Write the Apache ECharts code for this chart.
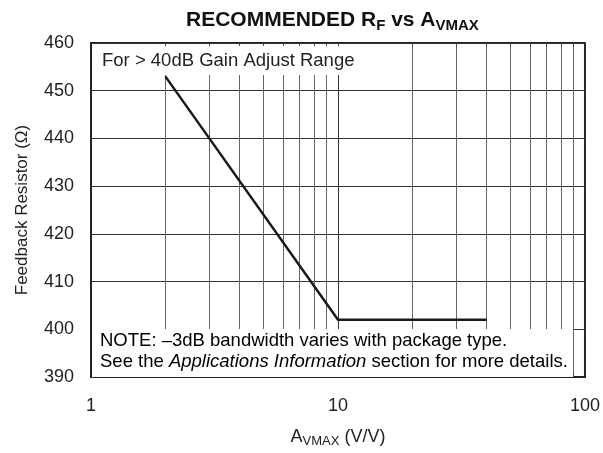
<!DOCTYPE html>
<html>
<head>
<meta charset="UTF-8">
<title>Recommended RF vs AVMAX</title>
<script src="https://cdn.jsdelivr.net/npm/echarts@6/dist/echarts.min.js"></script>
<style>
  html, body { margin: 0; padding: 0; background: #fff; }
  #chart { width: 603px; height: 453px; }
</style>
</head>
<body>
<div id="chart"></div>
<script>
// data
var gain = [2, 10, 40];           // A_VMAX (V/V)
var rf = [453, 402, 402];         // feedback resistor (ohm)
var minorX = [2, 3, 4, 5, 6, 7, 8, 9, 20, 30, 40, 50, 60, 70, 80, 90];
var tickX = [2, 3, 4, 5, 6, 7, 8, 9, 10, 20, 30, 40, 50, 60, 70, 80, 90];

var FONT = 'Liberation Sans, Arial, Helvetica, sans-serif';
var chart = echarts.init(document.getElementById('chart'));

// short inward ticks on bottom and top edges
var tickData = [];
tickX.forEach(function (v) {
    tickData.push([{coord: [v, 390]}, {coord: [v, 390.8]}]);
    tickData.push([{coord: [v, 460]}, {coord: [v, 459.2]}]);
});

var option = {
    animation: false,
    title: {
        left: 181,
        top: 2,
        text: '{b|RECOMMENDED R}{s|F}{b| vs A}{s|VMAX}',
        textStyle: {
            rich: {
                b: {fontFamily: FONT, fontSize: 21, fontWeight: 'bold', color: '#111', lineHeight: 26, verticalAlign: 'middle'},
                s: {fontFamily: FONT, fontSize: 15, fontWeight: 'bold', color: '#111', lineHeight: 15, verticalAlign: 'bottom'}
            }
        }
    },
    grid: {
        left: 91, right: 16, top: 43, bottom: 75,
        show: true, borderColor: '#222', borderWidth: 2, backgroundColor: 'transparent'
    },
    xAxis: {
        type: 'log',
        logBase: 10,
        min: 1,
        max: 100,
        name: '{n|A}{s|VMAX}{n| (V/V)}',
        nameLocation: 'middle',
        nameGap: 49,
        nameTextStyle: {
            rich: {
                n: {fontFamily: FONT, fontSize: 18, color: '#222', lineHeight: 22, verticalAlign: 'middle'},
                s: {fontFamily: FONT, fontSize: 13, color: '#222', lineHeight: 13, verticalAlign: 'bottom'}
            }
        },
        axisLine: {show: true, lineStyle: {color: '#222', width: 2}},
        axisTick: {show: false},
        axisLabel: {fontFamily: FONT, fontSize: 18, color: '#222', margin: 20},
        splitLine: {show: true, lineStyle: {color: '#333', width: 1}},
        minorTick: {show: false},
        minorSplitLine: {show: false}
    },
    yAxis: {
        type: 'value',
        min: 390,
        max: 460,
        interval: 10,
        name: 'Feedback Resistor (Ω)',
        nameLocation: 'middle',
        nameGap: 60,
        nameRotate: 90,
        nameTextStyle: {fontFamily: FONT, fontSize: 17, color: '#222'},
        axisLine: {show: true, lineStyle: {color: '#222', width: 2}},
        axisTick: {show: true, inside: true, length: 4, lineStyle: {color: '#333'}},
        axisLabel: {fontFamily: FONT, fontSize: 18, color: '#222', margin: 17},
        splitLine: {show: true, lineStyle: {color: '#333', width: 1}}
    },
    graphic: [
        {
            type: 'rect', z: 10, silent: true,
            shape: {x: 92, y: 46, width: 268, height: 29},
            style: {fill: '#fff'}
        },
        {
            type: 'text', z: 11, silent: true,
            x: 102, y: 51,
            style: {text: 'For > 40dB Gain Adjust Range', font: '18.5px ' + FONT, fill: '#222'}
        },
        {
            type: 'rect', z: 10, silent: true,
            shape: {x: 92, y: 329, width: 481, height: 48},
            style: {fill: '#fff'}
        },
        {
            type: 'text', z: 11, silent: true,
            x: 100, y: 330,
            style: {
                text: '{n|NOTE: \u20133dB bandwidth varies with package type.}\n{n|See the }{i|Applications Information}{n| section for more details.}',
                rich: {
                    n: {fontFamily: FONT, fontSize: 18.5, color: '#222', lineHeight: 21},
                    i: {fontFamily: FONT, fontSize: 18.5, fontStyle: 'italic', color: '#222', lineHeight: 21}
                }
            }
        }
    ],
    series: [
        {
            name: 'grid minor',
            type: 'line',
            data: [],
            silent: true,
            z: 1,
            markLine: {
                silent: true,
                symbol: 'none',
                animation: false,
                label: {show: false},
                lineStyle: {type: 'solid', color: '#666', width: 1},
                data: minorX.map(function (v) { return {xAxis: v}; })
            }
        },
        {
            name: 'ticks',
            type: 'line',
            data: [],
            silent: true,
            z: 20,
            markLine: {
                silent: true,
                symbol: 'none',
                animation: false,
                label: {show: false},
                lineStyle: {type: 'solid', color: '#444', width: 1},
                data: tickData
            }
        },
        {
            name: 'RF',
            type: 'line',
            data: gain.map(function (g, i) { return [g, rf[i]]; }),
            symbol: 'none',
            z: 5,
            lineStyle: {color: '#1a1a1a', width: 2.5}
        }
    ]
};

chart.setOption(option);
</script>
</body>
</html>
